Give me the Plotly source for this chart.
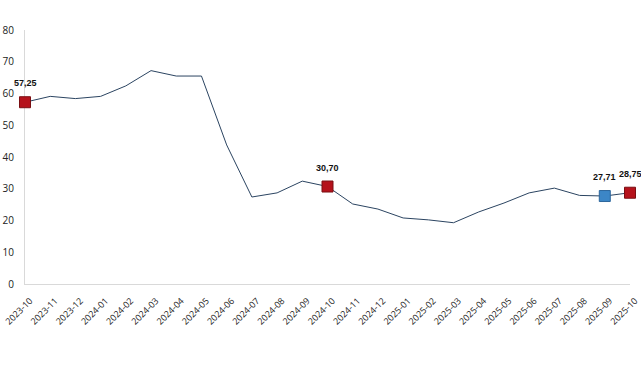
import plotly.graph_objects as go

months = ["2023-10","2023-11","2023-12","2024-01","2024-02","2024-03","2024-04","2024-05",
          "2024-06","2024-07","2024-08","2024-09","2024-10","2024-11","2024-12","2025-01",
          "2025-02","2025-03","2025-04","2025-05","2025-06","2025-07","2025-08","2025-09","2025-10"]
values = [57.25, 59.1, 58.4, 59.1, 62.4, 67.2, 65.5, 65.5,
          43.8, 27.4, 28.7, 32.4, 30.70, 25.2, 23.6, 20.8,
          20.2, 19.3, 22.7, 25.5, 28.7, 30.2, 27.9, 27.71, 28.75]

red_months = ["2023-10", "2024-10", "2025-10"]
blue_months = ["2025-09"]
y_ticks = [0, 10, 20, 30, 40, 50, 60, 70, 80]

def fmt(v):
    return f"{v:.2f}".replace(".", ",")

red_vals = [values[months.index(m)] for m in red_months]
blue_vals = [values[months.index(m)] for m in blue_months]

fig = go.Figure()
fig.add_trace(go.Scatter(x=months, y=values, mode="lines",
                         line=dict(color="#2B4461", width=1), hoverinfo="skip"))
fig.add_trace(go.Scatter(x=red_months, y=red_vals, mode="markers",
                         marker=dict(symbol="square", size=11, color="#B5121B",
                                     line=dict(color="#7A0E12", width=1)),
                         cliponaxis=False))
fig.add_trace(go.Scatter(x=blue_months, y=blue_vals, mode="markers",
                         marker=dict(symbol="square", size=11, color="#3C86C6",
                                     line=dict(color="#2D679C", width=1)),
                         cliponaxis=False))

for m, v in zip(red_months + blue_months, red_vals + blue_vals):
    fig.add_annotation(x=m, y=v, text=fmt(v), showarrow=False, yshift=19,
                       font=dict(family="Liberation Sans", size=9, color="#111111", weight="bold"))

fig.update_layout(
    width=641, height=375,
    margin=dict(l=25, r=11, t=30, b=91),
    paper_bgcolor="white", plot_bgcolor="white",
    showlegend=False,
    font=dict(family="Open Sans", size=10, color="#222222"),
)
fig.update_xaxes(type="category", categoryorder="array", categoryarray=months,
                 range=[0, 24], showgrid=False, showline=True, linecolor="#D9D9D9",
                 linewidth=1, tickangle=-45, ticks="", tickfont=dict(size=9, color="#222222"),
                 ticklabelshift=5, ticklabelstandoff=7, zeroline=False, automargin=False,
                 layer="below traces")
fig.update_yaxes(range=[0, 80], tickvals=y_ticks, showgrid=False, showline=True,
                 linecolor="#D9D9D9", linewidth=1, ticks="", ticklabelstandoff=8,
                 tickfont=dict(size=10, color="#222222"), zeroline=False, automargin=False,
                 layer="below traces")

fig.write_html("out.html", config={"displayModeBar": False},
               post_script="document.body.style.margin='0';")
